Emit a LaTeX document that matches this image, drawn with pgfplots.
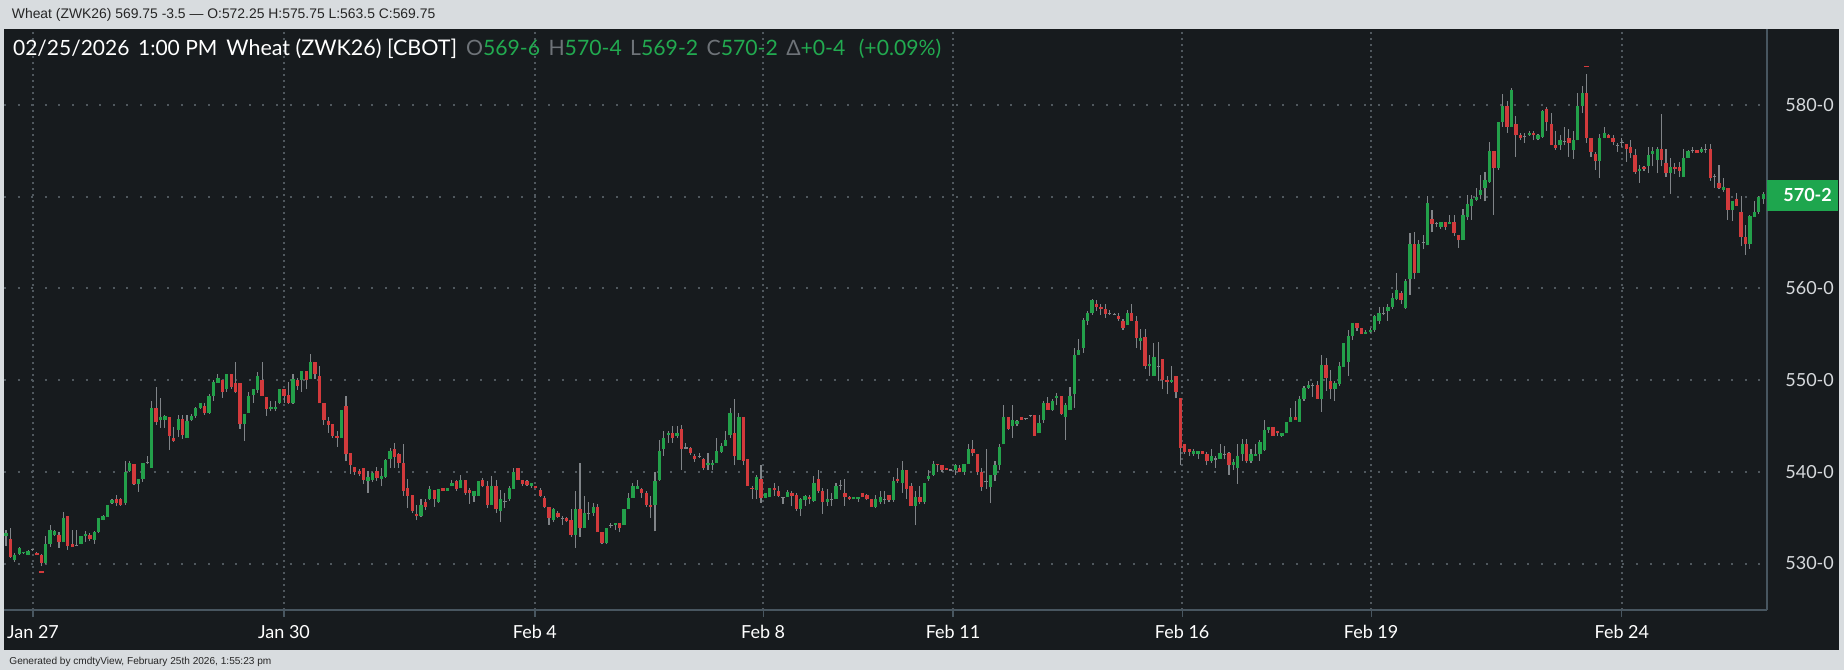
\documentclass[border=0pt]{standalone}
\usepackage{fontspec}
\setmainfont{Lato}
\newfontfamily\arialf{Liberation Sans}
\usepackage{pgfplots}
\usepackage{pgfplotstable}
\pgfplotsset{compat=1.18}

\definecolor{bandgray}{RGB}{216,220,223}
\definecolor{panel}{RGB}{23,27,30}
\definecolor{gridc}{RGB}{80,88,94}
\definecolor{axisc}{RGB}{72,86,96}
\definecolor{upc}{RGB}{35,160,74}
\definecolor{downc}{RGB}{210,58,60}
\definecolor{wickc}{RGB}{128,132,136}
\definecolor{txtgreen}{RGB}{34,170,80}
\definecolor{txtgray}{RGB}{110,115,120}
\definecolor{ticktxt}{RGB}{215,218,221}
\definecolor{boxgreen}{RGB}{30,166,78}

% hourly candles: open high low close
\pgfplotstableread{
o h l c
533.0 533.7 531.9 533.3
532.65 533.85 530.6 530.7
530.35 531.1 530.2 530.95
531.05 531.8 530.9 531.7
531.1 531.3 531.0 531.2
530.95 531.5 530.9 531.4
531.5 531.6 531.4 531.5
531.2 531.25 530.9 530.95
530.95 531.05 529.7 530.1
530.05 532.95 530.0 532.15
532.15 534.2 531.85 533.7
533.1 533.7 533.0 533.6
533.15 533.4 531.7 532.4
532.4 535.6 532.3 534.95
535.2 535.2 531.5 531.9
532.15 533.7 531.85 531.85
532.0 533.7 532.0 532.0
532.15 533.0 532.1 532.95
533.0 533.5 532.4 533.2
533.1 533.3 532.5 532.65
532.6 533.5 532.15 533.4
533.4 535.0 533.3 534.95
534.75 535.25 534.7 535.2
535.1 536.4 535.1 536.4
536.6 537.0 536.5 536.95
537.0 537.5 536.3 536.6
537.0 537.1 536.3 536.4
536.6 541.2 536.4 540.0
540.1 541.2 539.95 541.0
540.9 540.9 538.6 538.65
538.65 539.25 537.85 539.25
539.2 541.0 538.9 540.95
541.0 541.7 540.9 541.0
540.4 547.7 540.4 547.0
547.0 549.2 545.1 545.4
545.6 548.0 544.8 546.0
545.7 546.25 544.8 546.1
546.0 546.0 542.4 543.9
543.7 544.9 543.3 543.35
544.6 546.2 543.8 545.8
545.8 546.2 543.6 544.0
543.7 546.2 543.7 545.5
545.7 546.35 545.5 546.1
546.1 547.1 545.9 547.0
546.95 547.5 546.8 547.45
547.2 547.5 546.2 546.4
546.4 548.5 546.3 548.3
548.3 550.0 547.7 549.8
549.7 550.7 549.7 550.25
550.0 550.0 548.1 548.7
549.0 550.7 548.7 550.7
550.7 550.7 549.0 549.3
549.7 552.0 548.6 548.7
549.7 549.7 544.7 545.2
545.2 546.3 543.4 546.3
546.45 548.7 546.45 548.25
548.4 549.05 547.5 549.0
548.9 550.85 548.6 550.5
550.0 552.0 548.3 548.3
548.2 548.2 546.1 546.85
546.85 547.7 546.6 547.1
546.8 547.7 546.6 547.1
547.5 549.05 547.4 549.05
549.05 549.05 547.5 548.3
548.4 549.8 547.4 547.5
547.5 550.7 547.4 550.15
550.0 550.25 548.9 549.4
550.0 551.0 548.7 551.0
551.0 551.0 549.0 550.0
550.15 552.8 550.15 552.0
552.0 552.0 550.15 550.7
550.5 551.5 547.45 547.45
547.45 547.45 545.15 545.7
545.5 546.0 544.25 545.15
545.25 545.25 543.7 543.9
543.9 544.4 542.7 543.7
543.7 546.7 543.7 546.7
547.2 548.25 541.15 541.9
542.0 542.0 539.8 540.7
540.5 540.5 539.7 540.0
540.1 540.3 539.5 539.75
540.4 540.4 538.7 539.15
538.95 540.05 537.7 539.4
539.15 539.95 538.9 539.9
540.1 540.5 539.0 539.35
539.2 540.4 538.4 539.5
539.45 541.4 539.3 541.3
541.4 542.6 540.4 542.25
542.5 543.15 540.4 541.6
541.9 542.0 540.4 541.0
541.0 543.0 537.4 537.9
538.25 539.2 536.0 537.4
537.5 537.5 535.5 535.7
535.45 536.4 534.7 535.15
535.15 537.0 535.1 536.4
536.7 537.0 535.8 536.2
537.0 538.4 536.9 538.15
538.0 538.0 536.2 537.0
536.7 538.15 536.6 538.15
538.2 538.2 537.9 537.95
537.95 538.2 537.9 538.2
538.4 539.15 538.4 538.8
539.0 539.15 537.9 538.1
538.2 539.7 538.2 539.15
539.15 539.15 537.5 537.7
538.0 538.25 536.5 537.7
537.4 537.9 536.7 537.9
537.4 539.0 537.4 539.0
539.15 539.35 538.3 538.4
538.4 539.0 536.0 536.4
536.4 539.5 536.4 538.4
538.4 539.15 535.5 535.9
535.7 538.05 534.5 537.0
536.8 537.7 536.0 536.8
537.0 538.4 536.85 538.25
538.15 540.45 538.1 540.0
540.45 540.45 539.15 539.15
539.15 539.15 538.45 538.7
539.0 539.1 538.5 538.6
538.45 538.75 538.25 538.75
538.5 538.5 538.2 538.25
538.0 538.25 537.3 537.4
537.15 537.35 536.0 536.2
536.2 536.2 534.25 535.0
534.8 536.1 534.5 535.95
535.5 535.7 535.0 535.1
534.95 535.2 534.25 534.95
535.0 535.05 534.5 534.6
534.7 535.9 532.9 533.15
533.15 537.9 531.7 535.95
535.95 541.0 532.9 533.9
533.9 537.35 533.9 535.5
535.5 536.7 534.8 535.5
535.5 536.55 535.2 536.2
536.2 536.45 533.45 533.45
533.45 533.45 532.1 532.2
532.2 533.9 532.1 533.9
534.1 534.4 533.9 534.1
534.15 534.4 533.7 534.4
534.4 534.4 533.4 533.9
534.15 535.95 534.15 535.95
535.95 537.7 535.9 537.15
537.15 538.8 537.15 538.5
538.15 539.15 538.1 538.45
538.15 538.25 537.15 537.7
537.7 537.9 536.2 536.4
536.4 537.35 535.0 536.2
536.4 540.0 533.5 539.0
539.15 543.5 539.0 542.25
542.45 544.4 541.7 543.7
544.0 544.4 543.15 544.25
544.25 545.0 543.15 543.7
543.95 545.0 543.7 544.25
544.7 545.1 540.2 542.45
542.6 543.15 542.45 542.6
542.6 542.75 541.85 542.0
541.7 541.9 541.1 541.4
541.7 542.0 541.55 541.7
541.4 541.55 540.25 540.45
540.7 542.0 540.2 541.0
540.75 541.3 540.2 541.0
541.0 543.7 541.0 542.25
542.2 543.15 542.0 542.8
542.8 544.45 542.8 543.5
544.0 547.0 543.7 546.45
544.25 547.95 540.7 541.7
541.3 546.45 541.3 546.0
546.0 546.0 540.7 541.2
541.4 541.4 538.45 538.45
538.2 538.45 537.0 538.1
538.0 539.7 537.0 539.45
539.25 540.7 536.6 537.15
537.15 537.7 537.1 537.7
537.25 538.2 537.25 538.2
538.2 538.75 537.35 538.0
537.95 538.4 537.25 537.4
537.2 537.25 536.5 537.2
537.25 538.0 537.25 537.8
537.7 537.9 536.25 537.4
537.5 537.7 535.7 535.95
535.95 537.15 535.15 537.0
536.95 537.5 536.25 537.35
537.25 537.5 536.45 537.0
536.8 539.5 536.7 538.75
539.25 540.25 537.7 537.95
537.95 538.25 535.45 536.7
536.7 538.15 536.25 537.0
537.0 537.7 536.25 537.0
537.0 538.75 537.0 538.5
538.5 539.15 538.05 538.5
537.7 539.2 536.25 537.25
537.25 537.4 536.9 537.0
537.0 537.25 537.0 537.25
537.0 537.25 536.7 537.25
537.7 537.7 537.25 537.25
537.5 537.6 536.95 537.0
537.0 537.0 536.2 536.2
536.2 537.5 536.0 537.0
536.7 537.95 536.45 537.25
537.0 537.95 536.45 537.0
537.45 537.45 536.7 536.95
536.95 539.45 536.7 539.0
539.25 540.45 538.8 538.95
538.75 541.15 537.7 540.25
540.25 540.25 537.0 538.15
538.45 538.75 536.25 536.25
536.25 537.95 534.15 537.25
537.25 538.45 536.45 536.7
536.7 538.75 536.45 538.75
539.25 540.25 539.0 539.5
539.7 541.15 539.5 540.9
540.9 540.9 539.95 540.7
540.7 540.7 539.95 540.25
540.45 540.45 540.2 540.2
540.2 540.3 540.1 540.2
540.2 540.9 539.7 540.7
540.45 540.7 539.95 539.95
539.95 540.9 539.7 540.9
540.9 543.0 540.9 542.5
542.5 543.5 541.7 542.0
541.9 541.9 539.7 539.95
539.95 540.45 537.95 538.35
538.9 542.45 538.15 538.9
538.3 539.7 536.55 539.7
539.7 541.15 539.0 540.7
540.7 543.0 540.25 542.7
543.0 547.25 543.0 546.0
546.0 546.0 544.6 544.7
544.95 547.25 543.7 545.7
545.25 545.7 544.95 545.5
545.95 545.95 545.7 545.7
545.8 545.9 545.7 545.8
546.1 546.2 546.0 546.1
546.15 546.15 543.9 543.95
544.2 546.25 544.2 545.3
545.7 547.7 545.3 547.5
547.5 548.2 546.75 546.75
546.75 547.9 546.65 547.7
548.0 548.55 547.25 548.3
548.3 548.3 546.2 546.3
546.0 547.5 543.45 547.25
546.75 549.2 546.75 548.3
548.45 553.45 547.0 552.7
552.7 554.45 552.7 553.3
553.45 556.8 553.0 556.55
556.45 557.55 556.0 557.3
557.3 558.9 557.1 558.75
558.3 558.75 557.55 558.0
558.0 558.3 557.1 557.75
557.75 558.3 556.8 557.2
557.3 557.65 557.1 557.3
557.2 557.3 557.1 557.2
557.0 557.3 556.45 556.7
556.45 556.65 555.45 555.7
556.0 557.65 556.0 557.3
557.3 558.3 556.45 556.45
556.45 557.0 553.45 554.55
554.3 555.55 553.3 554.55
554.75 555.55 551.2 551.5
551.5 552.7 550.45 551.75
550.45 554.0 550.45 552.55
551.5 554.2 549.9 551.5
552.3 552.3 549.0 550.0
550.0 550.45 548.45 549.8
549.8 551.5 549.7 550.05
550.45 550.45 548.0 548.7
548.0 548.0 540.7 542.6
543.0 543.0 541.9 542.15
542.45 542.45 541.7 542.15
541.9 542.45 541.7 542.25
541.9 542.25 541.4 542.25
542.25 542.3 541.9 541.95
541.9 542.15 540.7 541.15
541.15 542.45 541.0 541.7
541.4 541.7 540.45 541.4
541.45 543.0 541.45 542.0
541.9 542.8 541.35 541.9
542.0 542.15 539.7 540.7
540.7 541.4 540.25 541.05
540.45 543.0 538.7 541.7
541.9 543.6 541.15 543.0
543.0 543.6 541.0 541.15
541.15 542.45 541.0 541.9
541.7 543.0 541.7 541.95
541.9 543.5 541.2 543.2
542.35 545.7 542.25 544.55
544.6 544.9 544.25 544.9
544.9 544.9 543.9 543.95
544.45 544.45 543.95 544.2
543.9 544.2 543.75 544.2
544.2 545.45 544.2 545.45
545.45 547.0 545.45 546.0
546.0 547.7 545.7 545.7
545.45 548.25 545.45 547.95
547.9 549.35 547.7 549.15
549.15 549.9 549.0 549.5
549.4 549.7 548.2 549.4
549.45 549.9 547.9 547.95
547.95 552.7 546.5 551.7
551.7 552.45 548.8 550.25
549.9 551.15 547.95 549.0
549.0 549.9 547.7 549.7
549.6 551.95 549.4 551.5
551.45 554.0 551.45 554.0
552.0 555.5 550.5 554.8
554.85 556.25 554.4 556.25
556.25 556.25 555.35 555.7
555.7 555.7 555.0 555.0
555.0 555.5 555.0 555.25
555.25 555.7 555.1 555.5
555.5 557.05 555.25 557.0
556.45 558.0 556.1 557.3
557.3 558.0 557.05 557.3
557.5 558.25 556.45 558.0
558.0 559.45 557.75 559.0
558.85 561.7 558.7 559.8
559.45 559.7 558.25 558.7
557.9 561.05 557.8 560.8
561.0 566.0 559.3 564.8
564.8 566.15 561.05 561.7
561.7 565.3 561.7 564.8
565.0 565.8 564.25 565.0
564.7 570.1 564.7 569.3
567.55 568.55 566.1 567.0
567.1 567.25 566.75 567.1
566.7 567.2 566.5 567.2
567.2 567.2 566.4 566.7
567.0 568.05 567.0 567.25
567.2 568.05 565.7 566.0
565.8 565.8 564.45 565.25
565.25 568.7 565.25 568.05
567.75 570.2 567.5 569.2
568.95 570.2 567.5 569.75
569.65 570.9 569.5 570.0
570.2 572.35 569.7 570.75
570.9 572.7 569.5 571.8
571.65 576.0 571.5 575.0
575.0 575.0 568.05 573.1
573.1 578.1 572.9 578.1
578.1 581.2 577.65 579.9
579.9 580.4 576.95 577.65
577.65 581.9 577.65 581.6
577.9 578.85 574.35 576.7
576.7 576.95 576.15 576.45
576.6 576.95 575.85 576.6
576.7 577.15 576.6 576.95
576.95 577.15 576.15 576.7
576.3 576.8 576.15 576.7
576.5 579.45 576.4 579.4
579.55 579.8 577.2 578.1
577.9 579.1 575.6 575.6
575.6 577.15 575.1 575.35
575.6 576.7 575.1 576.2
576.0 577.6 575.6 576.0
576.45 577.4 574.35 575.85
575.05 577.15 574.15 576.2
576.15 581.35 576.15 579.9
579.9 582.1 579.1 581.35
581.35 583.35 575.85 576.45
576.45 576.45 574.35 574.9
574.7 574.9 572.9 573.9
573.9 576.8 572.0 576.45
576.45 577.65 576.35 576.95
576.7 576.85 576.35 576.45
576.45 576.7 575.6 575.95
575.6 575.85 574.9 575.6
575.9 576.4 575.4 575.9
575.7 575.7 573.8 575.2
575.4 576.2 574.25 574.8
574.5 575.2 572.45 572.7
572.8 573.5 571.5 573.05
573.25 573.35 572.8 573.0
573.3 575.4 572.55 574.5
574.7 575.4 573.3 574.95
574.0 575.4 572.55 575.2
575.2 579.0 573.3 574.0
573.7 575.2 572.2 572.55
572.55 574.25 570.3 573.25
573.25 573.7 572.45 573.0
573.25 573.8 572.1 572.8
572.2 575.2 572.1 574.25
574.25 575.05 574.25 574.95
575.0 575.4 574.8 575.0
575.05 575.05 574.8 574.8
574.9 575.4 574.8 575.25
575.1 575.7 574.8 575.1
575.2 575.7 571.7 572.0
572.2 572.45 571.0 572.2
571.55 573.5 570.8 571.0
570.75 572.0 570.55 571.1
571.0 571.0 567.5 568.6
568.5 569.55 567.3 569.55
569.8 570.45 569.0 569.0
568.3 570.05 564.65 565.6
565.6 566.9 563.65 564.8
564.8 568.0 564.35 567.9
567.8 569.55 567.8 568.3
568.3 570.05 568.15 569.95
569.75 570.5 569.25 570.25
}\candles
\pgfplotstablecreatecol[expr={\pgfplotstablerow}]{i}{\candles}

\pgfplotsset{candle/.style={only marks, mark=*, mark size=0pt,
  mark options={draw=none, fill=none}, forget plot}}

\begin{document}
\begin{tikzpicture}
\begin{scope}[x=0.5pt,y=-0.5pt]
\useasboundingbox (0,0) rectangle (1844,670);
\fill[bandgray] (0,0) rectangle (1844,670);
\fill[panel] (4,29) rectangle (1839,650);
\node[anchor=base west, inner sep=0, text=black!85, font=\arialf\fontsize{6.95}{8}\selectfont] at (11.5,18.7) {Wheat (ZWK26) 569.75 -3.5 — O:572.25 H:575.75 L:563.5 C:569.75};
\node[anchor=base west, inner sep=0, text=black!85, font=\arialf\fontsize{5.05}{6}\selectfont] at (9,664) {Generated by cmdtyView, February 25th 2026, 1:55:23 pm};
\end{scope}

\begin{axis}[
  at={(2pt,-305pt)}, anchor=south west,
  width=881.5pt, height=290.5pt, scale only axis,
  xmin=-0.453, xmax=398.87, ymin=524.93, ymax=588.29,
  axis x line*=bottom, axis y line*=right,
  axis line style={draw=axisc, line width=0.6pt},
  xtick={6.12,62.97,119.8,171.5,214.5,266.4,309.2,366.0},
  xticklabels={Jan 27,Jan 30,Feb 4,Feb 8,Feb 11,Feb 16,Feb 19,Feb 24},
  ytick={530,540,550,560,570,580},
  yticklabels={530-0,540-0,550-0,560-0,570-0,580-0},
  xmajorgrids, ymajorgrids,
  x grid style={draw=gridc, line width=0.9pt, dash pattern=on 1pt off 2pt},
  y grid style={draw=gridc, line width=1pt, dash pattern=on 1pt off 5.8pt},
  xtick align=outside, ytick align=inside,
  major tick length=3.5pt,
  xtick style={draw=axisc, line width=0.6pt},
  ytick style={draw=none},
  xticklabel style={font=\fontsize{9}{10}\selectfont, text=white, anchor=north, inner sep=0pt, yshift=-4pt},
  yticklabel style={font=\fontsize{9}{10}\selectfont, text=ticktxt, anchor=west, inner sep=0pt, xshift=9pt},
]
% wicks
\addplot[candle,
  error bars/.cd, y dir=plus, y explicit, error mark=none,
  error bar style={draw=wickc, line width=0.55pt}]
  table[x=i, y=l, y error plus expr=\thisrow{h}-\thisrow{l}] {\candles};
% rising bodies
\addplot[candle,
  restrict expr to domain={\thisrow{c}-\thisrow{o}}{0.001:100},
  error bars/.cd, y dir=plus, y explicit, error mark=none,
  error bar style={draw=upc, line width=1.65pt}]
  table[x=i, y=o, y error plus expr={max(\thisrow{c}-\thisrow{o},0.12)}] {\candles};
% falling bodies
\addplot[candle,
  restrict expr to domain={\thisrow{o}-\thisrow{c}}{0.001:100},
  error bars/.cd, y dir=plus, y explicit, error mark=none,
  error bar style={draw=downc, line width=1.65pt}]
  table[x=i, y=c, y error plus expr={max(\thisrow{o}-\thisrow{c},0.12)}] {\candles};
% unchanged (doji) bodies
\addplot[candle,
  restrict expr to domain={abs(\thisrow{c}-\thisrow{o})}{0:0.0009},
  error bars/.cd, y dir=plus, y explicit, error mark=none,
  error bar style={draw=wickc, line width=1.65pt}]
  table[x=i, y expr=\thisrow{o}-0.06, y error plus expr=0.12] {\candles};
% lowest low / highest high markers
\addplot[only marks, mark=-, mark size=1.3pt, mark options={draw=downc, line width=0.9pt}]
  coordinates {(8,529.1) (358,584.2)};
\end{axis}

\begin{scope}[x=0.5pt,y=-0.5pt]
\fill[boxgreen] (1767,179.5) rectangle (1838,210.7);
\node[anchor=base west, inner sep=0, text=white, font=\bfseries\fontsize{9}{10}\selectfont] at (1783,201.8) {570-2};
\begin{scope}[every node/.style={anchor=base west, inner sep=0, font=\fontsize{10.5}{12}\selectfont}]
\node[text=white] at (12.7,55) {02/25/2026};
\node[text=white] at (137.7,55) {1:00 PM};
\node[text=white, font=\fontsize{10.75}{12}\selectfont] at (226,55) {Wheat (ZWK26) [CBOT]};
\node[font=\fontsize{10.6}{12}\selectfont] at (465.7,55) {\textcolor{txtgray}{O}\textcolor{txtgreen}{569-6} \hspace{1.5pt}\textcolor{txtgray}{H}\textcolor{txtgreen}{570-4} \hspace{1.5pt}\textcolor{txtgray}{L}\textcolor{txtgreen}{569-2} \hspace{1.5pt}\textcolor{txtgray}{C}\textcolor{txtgreen}{570-2} \hspace{1.5pt}\textcolor{txtgray}{Δ}\textcolor{txtgreen}{+0-4 \hspace{4pt}(+0.09\%)}};
\end{scope}
\end{scope}
\end{tikzpicture}
\end{document}
